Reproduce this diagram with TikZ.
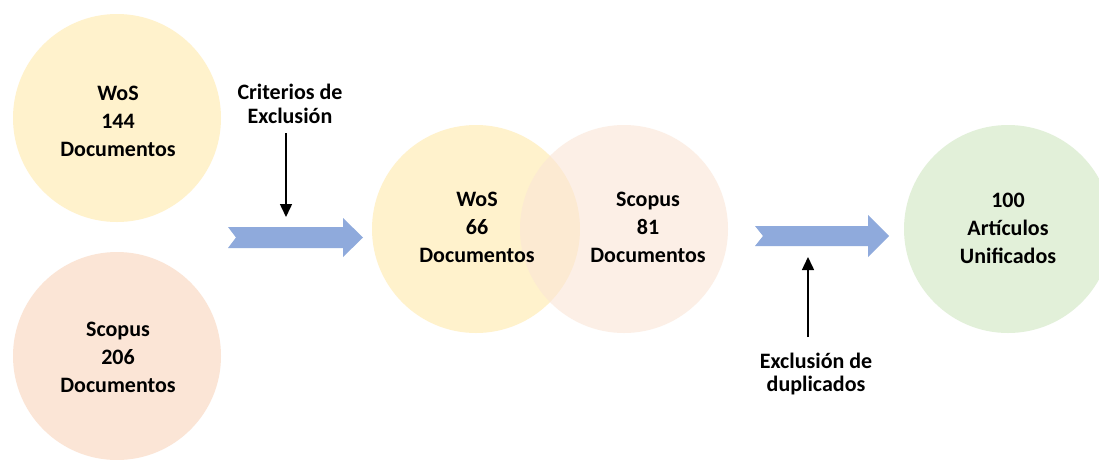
\documentclass[tikz,border=0pt]{standalone}
\usepackage{fontspec}
\setmainfont{Carlito}
\usetikzlibrary{arrows.meta}
\definecolor{wosY}{HTML}{FFF2CC}
\definecolor{scoO}{HTML}{FBE5D6}
\definecolor{uniG}{HTML}{E2F0D9}
\definecolor{arrB}{HTML}{8FAADC}
\begin{document}
\begin{tikzpicture}[x=1pt,y=-1pt,
  bubble/.style={circle, minimum size=208pt, inner sep=0pt, align=center,
    font=\bfseries\fontsize{22}{28}\selectfont, text=black},
  btext/.style={align=center, inner sep=0pt, font=\bfseries\fontsize{22}{28}\selectfont, text=black},
  lbl/.style={align=center, inner sep=0pt, font=\bfseries\fontsize{22}{24}\selectfont, text=black},
  thinarrow/.style={line width=1.5pt, draw=black, -{Triangle[length=13pt,width=12pt]}},
  blockarrow/.style={fill=arrB}]
\useasboundingbox (0,0) rectangle (1099,459);
\clip (0,0) rectangle (1099,459);
\fill[white] (0,0) rectangle (1099,459);

% left circles
\node[bubble, fill=wosY] (wosA) at (117,118) {};
\node[btext] (wosAt) at (118,121) {WoS\\144\\Documentos};
\node[bubble, fill=scoO] (scoA) at (117,356) {};
\node[btext] (scoAt) at (118,357) {Scopus\\206\\Documentos};

% middle venn
\node[bubble, fill=wosY] (wosB) at (476,229) {};
\node[bubble, fill=scoO, fill opacity=0.6, text opacity=1] (scoB) at (624,229) {};
\node[btext] (wosBt) at (477,227) {WoS\\66\\Documentos};
\node[btext] (scoBt) at (648,227) {Scopus\\81\\Documentos};

% right circle
\node[bubble, fill=uniG] (uni) at (1008,229) {};
\node[btext] (unit) at (1008,228) {100\\Artículos\\Unificados};

% block arrows
\fill[blockarrow] (228,227) -- (343,227) -- (343,218) -- (363,237.5) -- (343,257) -- (343,248) -- (228,248) -- (236,237.5) -- cycle;
\fill[blockarrow] (755,226) -- (868,226) -- (868,215) -- (889,236) -- (868,257) -- (868,246) -- (755,246) -- (763,236) -- cycle;

% labels
\node[lbl] (crit) at (290,104) {Criterios de\\Exclusión};
\node[lbl] (dup) at (816,374) {Exclusión de\\duplicados};

% thin arrows
\coordinate (c1s) at (286,133);
\coordinate (c1e) at (286,217);
\draw[thinarrow] (c1s) -- (c1e);
\coordinate (c2s) at (808,337);
\coordinate (c2e) at (808,257);
\draw[thinarrow] (c2s) -- (c2e);
\end{tikzpicture}
\end{document}
